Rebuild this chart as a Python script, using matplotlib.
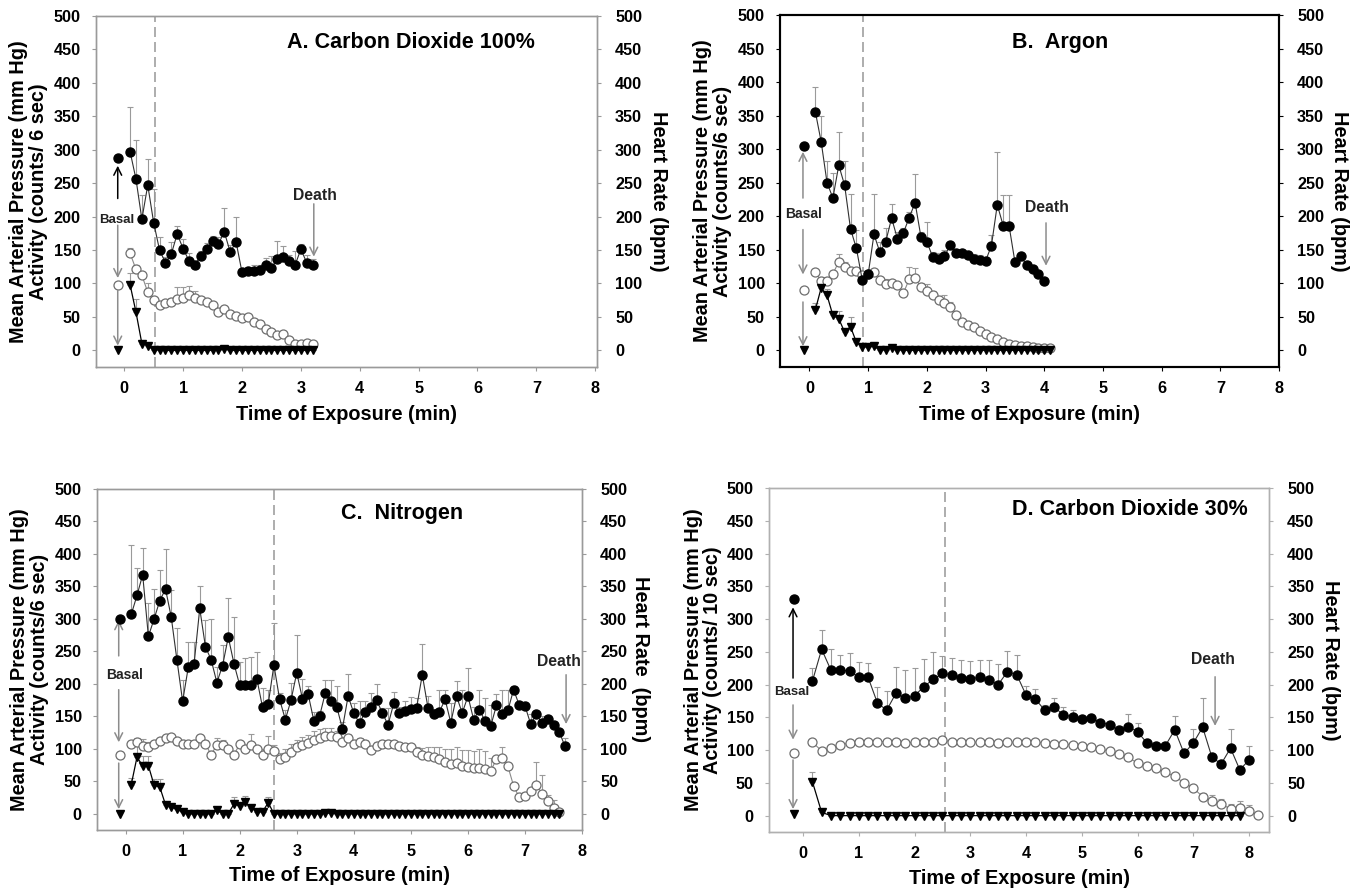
import numpy as np
import matplotlib
matplotlib.use("Agg")
import matplotlib.pyplot as plt

plt.rcParams['font.family'] = ['Liberation Sans', 'DejaVu Sans']
plt.rcParams['font.weight'] = 'bold'
plt.rcParams['axes.labelweight'] = 'bold'

# ---------------- Panel A: Carbon Dioxide 100% (0.1 min steps) ----------------
hrA = [297, 256, 196, 247, 191, 150, 131, 144, 174, 152, 134, 128, 141, 151, 163, 159,
       177, 147, 162, 117, 119, 119, 120, 128, 123, 137, 140, 133, 127, 151, 131, 127]
hrA_err = [67, 58, 36, 39, 50, 20, 8, 18, 12, 15, 12, 5, 8, 10, 8, 10,
           36, 10, 37, 5, 5, 8, 8, 10, 18, 27, 16, 10, 22, 8, 12, 10]
mapA = [145, 121, 112, 87, 75, 68, 70, 72, 77, 78, 82, 78, 75, 72, 68, 58,
        62, 55, 52, 48, 50, 43, 39, 32, 27, 23, 25, 15, 10, 10, 11, 9]
mapA_err = [8, 6, 5, 14, 5, 3, 4, 6, 17, 17, 14, 10, 5, 4, 3, 3,
            4, 3, 3, 3, 3, 3, 3, 3, 3, 3, 4, 3, 3, 3, 4, 3]
actA = [98, 57, 10, 7, 0, 1, 0, 0, 0, 0, 0, 0, 0, 0, 0, 0,
        2, 0, 0, 0, 0, 0, 0, 0, 0, 0, 0, 0, 0, 0, 0, 0]
actA_err = [17, 19, 4, 2, 0, 0, 0, 0, 0, 0, 0, 0, 0, 0, 0, 0,
            0, 0, 0, 0, 0, 0, 0, 0, 0, 0, 0, 0, 0, 0, 0, 0]
basalA = [288, 97, 0]  # heart rate, MAP, activity

# ---------------- Panel B: Argon ----------------
hrB = [356, 311, 250, 227, 276, 246, 181, 152, 105, 113,
       173, 146, 162, 197, 166, 175, 198, 220, 169, 162,
       139, 136, 140, 157, 145, 145, 142, 136, 134, 133,
       156, 217, 186, 186, 132, 140, 127, 121, 113, 103]
hrB_err = [37, 39, 32, 38, 50, 36, 52, 28, 3, 3,
           60, 16, 20, 21, 11, 7, 8, 43, 8, 30,
           8, 9, 10, 3, 5, 5, 6, 7, 8, 5,
           16, 78, 45, 45, 3, 3, 3, 3, 3, 3]
mapB = [116, 104, 104, 114, 132, 124, 118, 118, 112, 113,
        117, 105, 99, 100, 98, 85, 106, 108, 94, 89,
        82, 75, 70, 64, 52, 42, 38, 34, 29, 24,
        20, 17, 13, 10, 8, 7, 6, 5, 4, 3, 3]
mapB_err = [3, 6, 5, 4, 12, 8, 5, 4, 3, 3,
            4, 5, 8, 5, 4, 3, 18, 15, 6, 10,
            6, 5, 12, 8, 5, 4, 5, 4, 3, 3,
            3, 3, 3, 3, 2, 2, 2, 2, 2, 2, 2]
actB = [60, 93, 82, 52, 47, 27, 35, 12, 5, 5,
        6, 0, 1, 3, 1, 0, 0, 0, 0, 0,
        1, 0, 0, 0, 0, 0, 0, 0, 0, 0,
        0, 0, 0, 0, 0, 0, 0, 0, 0, 0, 0]
actB_err = [10, 10, 10, 6, 11, 5, 15, 3, 3, 3,
            7, 0, 0, 0, 0, 0, 0, 0, 0, 0,
            0, 0, 0, 0, 0, 0, 0, 0, 0, 0,
            0, 0, 0, 0, 0, 0, 0, 0, 0, 0, 0]
basalB = [305, 90, 0]

# ---------------- Panel C: Nitrogen ----------------
hrC = [307, 336, 368, 273, 300, 328, 346, 303, 237, 173,
       226, 230, 316, 257, 237, 202, 228, 272, 231, 198,
       198, 198, 208, 164, 169, 229, 176, 145, 175, 217,
       177, 184, 143, 150, 186, 173, 165, 131, 181, 155,
       139, 157, 165, 175, 155, 137, 170, 155, 158, 162,
       163, 214, 163, 153, 157, 176, 140, 181, 155, 181,
       145, 160, 143, 135, 167, 153, 159, 191, 167, 166,
       138, 153, 139, 146, 136, 126, 104]
hrC_err = [106, 42, 41, 52, 46, 48, 61, 41, 49, 33,
           38, 34, 35, 42, 63, 24, 32, 60, 72, 36,
           42, 44, 41, 29, 22, 65, 10, 15, 27, 58,
           30, 12, 14, 8, 20, 33, 32, 10, 34, 15,
           34, 17, 21, 25, 8, 26, 17, 10, 15, 18,
           15, 47, 19, 8, 34, 15, 30, 24, 36, 44,
           20, 31, 35, 33, 18, 38, 32, 5, 5, 2,
           15, 5, 11, 5, 5, 5, 13]
mapC = [107, 110, 105, 103, 107, 112, 117, 118, 112, 108,
        107, 107, 117, 107, 91, 106, 106, 99, 91, 107,
        100, 106, 99, 91, 100, 96, 84, 88, 95, 102,
        106, 109, 113, 117, 120, 120, 118, 110, 117, 108,
        111, 107, 98, 104, 107, 108, 107, 105, 102, 102,
        95, 91, 89, 87, 85, 79, 77, 78, 74, 72,
        71, 71, 69, 66, 84, 86, 73, 43, 25, 28,
        35, 44, 31, 19, 9, 2]
mapC_err = [5, 6, 10, 8, 5, 5, 4, 5, 5, 5,
            5, 5, 4, 6, 5, 10, 8, 5, 6, 5,
            6, 16, 6, 8, 20, 10, 10, 12, 12, 12,
            12, 12, 14, 14, 12, 12, 10, 8, 6, 6,
            6, 6, 6, 6, 6, 6, 5, 5, 5, 5,
            8, 10, 14, 16, 18, 20, 22, 24, 24, 26,
            26, 28, 28, 20, 5, 17, 5, 5, 5, 5,
            5, 36, 29, 10, 12, 3]
actC = [45, 87, 74, 74, 44, 41, 14, 10, 7, 2,
        0, 0, 0, 0, 0, 5, 0, 0, 15, 12,
        18, 9, 3, 3, 17, 0, 0, 0, 0, 0,
        0, 0, 0, 0, 1, 1, 0, 0, 0, 0,
        0, 0, 0, 0, 0, 0, 0, 0, 0, 0,
        0, 0, 0, 0, 0, 0, 0, 0, 0, 0,
        0, 0, 0, 0, 0, 0, 0, 0, 0, 0,
        0, 0, 0, 0, 0, 0]
actC_err = [10, 17, 15, 15, 9, 12, 6, 3, 0, 0,
            0, 0, 0, 0, 0, 0, 0, 0, 10, 4,
            9, 0, 0, 0, 8, 0, 0, 0, 0, 0,
            0, 0, 0, 0, 0, 0, 0, 0, 0, 0,
            0, 0, 0, 0, 0, 0, 0, 0, 0, 0,
            0, 0, 0, 0, 0, 0, 0, 0, 0, 0,
            0, 0, 0, 0, 0, 0, 0, 0, 0, 0,
            0, 0, 0, 0, 0, 0]
basalC = [300, 91, 0]

# ---------------- Panel D: Carbon Dioxide 30% (10 s steps) ----------------
hrD = [205, 254, 222, 222, 221, 211, 211, 172, 161, 187,
       179, 183, 197, 208, 217, 215, 210, 209, 211, 207,
       200, 220, 215, 184, 178, 161, 166, 154, 151, 147,
       149, 142, 139, 130, 136, 128, 111, 107, 107, 131,
       95, 111, 135, 89, 79, 103, 70, 85]
hrD_err = [21, 29, 33, 23, 27, 24, 22, 24, 29, 40,
           43, 42, 42, 42, 26, 25, 28, 27, 26, 30,
           32, 31, 30, 14, 15, 8, 14, 12, 11, 5,
           4, 4, 4, 5, 19, 13, 4, 4, 4, 21,
           4, 22, 45, 4, 4, 29, 4, 22]
mapD = [112, 99, 103, 108, 111, 112, 112, 113,
        113, 113, 111, 112, 113, 113, 115, 113, 112, 112, 112, 112, 111,
        112, 112, 113, 112, 111, 110, 109, 108, 106, 105,
        102, 98, 94, 89, 80, 76, 73, 66, 60, 50,
        42, 29, 23, 18, 10, 12, 7, 1]
mapD_err = [3] * 42 + [6, 8, 8, 8, 10, 10, 3]
actD = [52, 5] + [0] * 45
actD_err = [14] + [0] * 46
basalD = [331, 95, 2]

PANELS = [
    dict(rect=[0.0706, 0.5881, 0.3687, 0.394], xlim=(-0.48, 8.03), step=0.1,
         hr=hrA, hr_err=hrA_err, mp=mapA, mp_err=mapA_err, act=actA, act_err=actA_err,
         basal=basalA, basal_x=-0.1, dash=0.52, spine='#9a9a9a', spine_lw=1.0,
         title='A. Carbon Dioxide 100%', title_xy=(2.76, 460),
         ylabel='Mean Arterial Pressure (mm Hg)\nActivity (counts/ 6 sec)',
         rlabel='Heart Rate (bpm)', lpos=-0.134, rpos=1.122,
         basal_txt=(-0.12, 195), basal_fs=9.5,
         arrows=[(-0.11, 227, 276, 'black'), (-0.11, 187, 108, '#8c8c8c'), (-0.11, 90, 7, '#8c8c8c')],
         death_xy=(3.24, 232), death_arrow=(3.22, 219, 140)),
    dict(rect=[0.574, 0.5881, 0.3672, 0.395], xlim=(-0.5, 8.0), step=0.1,
         hr=hrB, hr_err=hrB_err, mp=mapB, mp_err=mapB_err, act=actB, act_err=actB_err,
         basal=basalB, basal_x=-0.1, dash=0.91, spine='black', spine_lw=1.5,
         title='B.  Argon', title_xy=(3.45, 459),
         ylabel='Mean Arterial Pressure (mm Hg)\nActivity (counts/6 sec)',
         rlabel='Heart Rate (bpm)', lpos=-0.136, rpos=1.122,
         basal_txt=(-0.1, 203), basal_fs=10,
         arrows=[(-0.11, 227, 296, '#8c8c8c'), (-0.11, 180, 113, '#8c8c8c'), (-0.11, 72, 6, '#8c8c8c')],
         death_xy=(4.04, 213), death_arrow=(4.03, 190, 126)),
    dict(rect=[0.0714, 0.0685, 0.3569, 0.3827], xlim=(-0.5, 8.0), step=0.1,
         hr=hrC, hr_err=hrC_err, mp=mapC, mp_err=mapC_err, act=actC, act_err=actC_err,
         basal=basalC, basal_x=-0.1, dash=2.6, spine='#9a9a9a', spine_lw=1.0,
         title='C.  Nitrogen', title_xy=(3.77, 463),
         ylabel='Mean Arterial Pressure (mm Hg)\nActivity (counts/6 sec)',
         rlabel='Heart Rate  (bpm)', lpos=-0.14, rpos=1.12,
         basal_txt=(-0.02, 214), basal_fs=10,
         arrows=[(-0.12, 243, 298, '#8c8c8c'), (-0.12, 191, 110, '#8c8c8c'), (-0.12, 78, 7, '#8c8c8c')],
         death_xy=(7.6, 234), death_arrow=(7.72, 214, 138)),
    dict(rect=[0.5659, 0.0662, 0.368, 0.386], xlim=(-0.61, 8.36), step=1 / 6,
         hr=hrD, hr_err=hrD_err, mp=mapD, mp_err=mapD_err, act=actD, act_err=actD_err,
         basal=basalD, basal_x=-0.17, dash=2.54, spine='#b0b0b0', spine_lw=1.0,
         title='D. Carbon Dioxide 30%', title_xy=(3.75, 468),
         ylabel='Mean Arterial Pressure (mm Hg)\nActivity (counts/ 10 sec)',
         rlabel='Heart Rate (bpm)', lpos=-0.132, rpos=1.122,
         basal_txt=(-0.2, 189), basal_fs=9.5,
         arrows=[(-0.18, 210, 318, 'black'), (-0.18, 169, 116, '#8c8c8c'), (-0.18, 85, 10, '#8c8c8c')],
         death_xy=(7.36, 238), death_arrow=(7.39, 212, 137)),
]

fig = plt.figure(figsize=(13.59, 8.91), dpi=100)

ERR_C = '#9a9a9a'


def up_err(ax, t, y, e, z):
    e = np.asarray(e, float)
    ax.errorbar(t, y, yerr=[np.zeros_like(e), e], fmt='none', ecolor=ERR_C,
                elinewidth=0.8, capsize=2, capthick=0.8, zorder=z)


for p in PANELS:
    ax = fig.add_axes(p['rect'])
    ax.set_xlim(*p['xlim'])
    ax.set_ylim(-25, 500)
    step = p['step']
    t_hr = np.arange(1, len(p['hr']) + 1) * step
    t_mp = np.arange(1, len(p['mp']) + 1) * step
    t_act = np.arange(1, len(p['act']) + 1) * step

    ax.axvline(p['dash'], color='#a0a0a0', lw=1.2, ls=(0, (6, 3)), zorder=1)

    # MAP (open circles)
    up_err(ax, t_mp, p['mp'], p['mp_err'], 2)
    ax.plot(t_mp, p['mp'], color='#8a8a8a', lw=0.8, marker='o', ms=6.5, mfc='white',
            mec='#6e6e6e', mew=0.9, zorder=3)
    # Activity (triangles)
    up_err(ax, t_act, p['act'], p['act_err'], 2)
    ax.plot(t_act, p['act'], color='black', lw=0.9, marker='v', ms=6, mfc='black',
            mec='black', zorder=4)
    # basal MAP + activity
    ax.plot([p['basal_x']], [p['basal'][1]], ls='none', marker='o', ms=6.5, mfc='white',
            mec='#6e6e6e', mew=0.9, zorder=3)
    ax.plot([p['basal_x']], [p['basal'][2]], ls='none', marker='v', ms=6, color='black', zorder=4)

    # Heart rate on right axis (same scale)
    ax2 = ax.twinx()
    ax2.set_ylim(-25, 500)
    up_err(ax2, t_hr, p['hr'], p['hr_err'], 2)
    ax2.plot(t_hr, p['hr'], color='#303030', lw=0.8, marker='o', ms=6.5, mfc='black',
             mec='black', zorder=3)
    ax2.plot([p['basal_x']], [p['basal'][0]], ls='none', marker='o', ms=6.5, color='black', zorder=3)

    for a in (ax, ax2):
        for s in a.spines.values():
            s.set_color(p['spine'])
            s.set_linewidth(p['spine_lw'])
        a.tick_params(colors='black', labelsize=11.7, length=3, width=0.8)
        a.tick_params(axis='both', color=p['spine'])
    ax.set_xticks(range(0, 9))
    ax.set_yticks(range(0, 501, 50))
    ax2.set_yticks(range(0, 501, 50))
    ax.tick_params(axis='y', pad=8)
    ax.tick_params(axis='x', pad=7)
    ax2.tick_params(axis='y', pad=10)
    for lab in ax.get_xticklabels() + ax.get_yticklabels() + ax2.get_yticklabels():
        lab.set_fontweight('bold')

    ax.set_xlabel('Time of Exposure (min)', fontsize=14.3, fontweight='bold',
                  va='center', ha='center')
    ax.xaxis.set_label_coords(0.5, -0.135)
    ax.set_ylabel(p['ylabel'], fontsize=14.3, fontweight='bold', linespacing=1.05,
                  va='center', ha='center')
    ax.yaxis.set_label_coords(p['lpos'], 0.5)
    ax2.set_ylabel(p['rlabel'], fontsize=14.3, fontweight='bold', rotation=270,
                   va='center', ha='center')
    ax2.yaxis.set_label_coords(p['rpos'], 0.5)

    ax.text(p['title_xy'][0], p['title_xy'][1], p['title'], fontsize=15.5,
            fontweight='bold', ha='left', va='center')

    # annotations
    ax.text(p['basal_txt'][0], p['basal_txt'][1], 'Basal', fontsize=p['basal_fs'],
            fontweight='bold', ha='center', va='center', color='#222222', zorder=6)
    for (x, y0, y1, c) in p['arrows']:
        ax.annotate('', xy=(x, y1), xytext=(x, y0),
                    arrowprops=dict(arrowstyle='->', color=c, lw=1.1, mutation_scale=14,
                                    shrinkA=0, shrinkB=0), zorder=5)
    ax.text(p['death_xy'][0], p['death_xy'][1], 'Death', fontsize=11.3,
            fontweight='bold', ha='center', va='center', color='#222222')
    dx, dy0, dy1 = p['death_arrow']
    ax.annotate('', xy=(dx, dy1), xytext=(dx, dy0),
                arrowprops=dict(arrowstyle='->', color='#8c8c8c', lw=1.1, mutation_scale=14,
                                shrinkA=0, shrinkB=0))

fig.savefig('out.png', dpi=100)
